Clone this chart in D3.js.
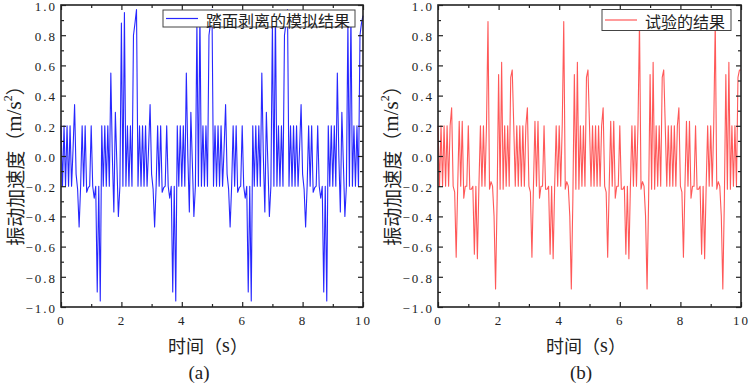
<!DOCTYPE html>
<html lang="zh">
<head>
<meta charset="UTF-8">
<title>振动加速度对比</title>
<script src="https://d3js.org/d3.v7.min.js"></script>
<style>
  body { margin: 0; background: #fff; }
  .tick text { font-family: "Liberation Serif", serif; font-size: 13px; letter-spacing: 2px; fill: #222; }
  .tick line { stroke: #222; stroke-width: 1.2px; }
  .domain { display: none; }
  .cjk { font-family: "Noto Sans CJK SC", sans-serif; fill: #222; }
</style>
</head>
<body>
<svg id="chart" width="749" height="387"></svg>
<script>
// sampled every 0.05 s, 0 .. 10 s
const sampleStep = 0.05;

const simValues = [
  0.20,-0.20,0.20,-0.20,0.20,-0.20,0.20,-0.20,0.05,0.34,
  -0.12,-0.22,-0.47,-0.20,0.20,-0.20,0.20,-0.24,-0.21,-0.20,
  0.20,-0.20,-0.28,-0.20,-0.90,-0.20,-0.96,0.20,-0.20,0.20,
  -0.20,0.20,-0.20,0.55,0.00,-0.37,0.29,-0.05,-0.40,-0.20,
  0.88,-0.20,0.95,-0.20,0.20,-0.20,0.20,-0.20,0.80,0.88,
  0.97,-0.20,0.20,-0.20,0.20,-0.20,0.20,-0.20,0.05,0.34,
  -0.12,-0.22,-0.47,-0.20,0.20,-0.20,0.20,-0.24,-0.21,-0.20,
  0.20,-0.20,-0.28,-0.20,-0.90,-0.20,-0.96,0.20,-0.20,0.20,
  -0.20,0.20,-0.20,0.55,0.00,-0.37,0.29,-0.05,-0.40,-0.20,
  0.88,-0.20,0.95,-0.20,0.20,-0.20,0.20,-0.20,0.80,0.88,
  0.97,-0.20,0.20,-0.20,0.20,-0.20,0.20,-0.20,0.05,0.34,
  -0.12,-0.22,-0.47,-0.20,0.20,-0.20,0.20,-0.24,-0.21,-0.20,
  0.20,-0.20,-0.28,-0.20,-0.90,-0.20,-0.96,0.20,-0.20,0.20,
  -0.20,0.20,-0.20,0.55,0.00,-0.37,0.29,-0.05,-0.40,-0.20,
  0.88,-0.20,0.95,-0.20,0.20,-0.20,0.20,-0.20,0.80,0.88,
  0.97,-0.20,0.20,-0.20,0.20,-0.20,0.20,-0.20,0.05,0.34,
  -0.12,-0.22,-0.47,-0.20,0.20,-0.20,0.20,-0.24,-0.21,-0.20,
  0.20,-0.20,-0.28,-0.20,-0.90,-0.20,-0.96,0.20,-0.20,0.20,
  -0.20,0.20,-0.20,0.55,0.00,-0.37,0.29,-0.05,-0.40,-0.20,
  0.88,-0.20,0.95,-0.20,0.20,-0.20,0.20,-0.20,0.80,0.88,
  0.93
];

const testValues = [
  0.20,-0.20,0.20,-0.20,0.20,-0.20,0.20,-0.20,0.20,0.32,
  -0.20,-0.24,-0.67,-0.20,0.23,-0.20,0.23,-0.28,-0.20,-0.20,
  0.20,-0.22,-0.22,-0.20,-0.65,-0.20,-0.68,-0.20,0.20,-0.20,
  0.20,-0.20,0.20,0.89,-0.22,-0.17,-0.20,-0.40,-0.88,-0.30,
  0.54,-0.22,0.62,-0.22,0.20,-0.20,0.20,-0.20,0.52,0.57,
  0.20,-0.20,0.20,-0.20,0.20,-0.20,0.20,-0.20,0.20,0.32,
  -0.20,-0.24,-0.67,-0.20,0.23,-0.20,0.23,-0.28,-0.20,-0.20,
  0.20,-0.22,-0.22,-0.20,-0.65,-0.20,-0.68,-0.20,0.20,-0.20,
  0.20,-0.20,0.20,0.89,-0.22,-0.17,-0.20,-0.40,-0.88,-0.30,
  0.54,-0.22,0.62,-0.22,0.20,-0.20,0.20,-0.20,0.52,0.57,
  0.20,-0.20,0.20,-0.20,0.20,-0.20,0.20,-0.20,0.20,0.32,
  -0.20,-0.24,-0.67,-0.20,0.23,-0.20,0.23,-0.28,-0.20,-0.20,
  0.20,-0.22,-0.22,-0.20,-0.65,-0.20,-0.68,-0.20,0.20,-0.20,
  0.20,-0.20,0.20,0.89,-0.22,-0.17,-0.20,-0.40,-0.88,-0.30,
  0.54,-0.22,0.62,-0.22,0.20,-0.20,0.20,-0.20,0.52,0.57,
  0.20,-0.20,0.20,-0.20,0.20,-0.20,0.20,-0.20,0.20,0.32,
  -0.20,-0.24,-0.67,-0.20,0.23,-0.20,0.23,-0.28,-0.20,-0.20,
  0.20,-0.22,-0.22,-0.20,-0.65,-0.20,-0.68,-0.20,0.20,-0.20,
  0.20,-0.20,0.20,0.89,-0.22,-0.17,-0.20,-0.40,-0.88,-0.30,
  0.54,-0.22,0.62,-0.22,0.20,-0.20,0.20,-0.20,0.52,0.57,
  0.57
];

const xTicks = [0, 2, 4, 6, 8, 10];
const xMinor = [1, 3, 5, 7, 9];
const yTicks = [-1.0, -0.8, -0.6, -0.4, -0.2, 0.0, 0.2, 0.4, 0.6, 0.8, 1.0];
const yMinor = [-0.9, -0.7, -0.5, -0.3, -0.1, 0.1, 0.3, 0.5, 0.7, 0.9];

const panels = [
  { values: simValues, color: "#1010ff", opacity: 0.9, legend: "踏面剥离的模拟结果", tag: "(a)",
    left: 61, width: 302, legendBox: [163, 10, 192, 17], titleX: 208, tagX: 199, yTitleX: 14 },
  { values: testValues, color: "#ff2020", opacity: 0.75, legend: "试验的结果", tag: "(b)",
    left: 438, width: 303, legendBox: [602, 9.5, 129, 21], titleX: 586, tagX: 581, yTitleX: 391 }
];

const plotTop = 5, plotH = 302;
const svg = d3.select("#chart");
svg.append("rect").attr("width", 749).attr("height", 387).attr("fill", "#fff");

const fmt = d => (d < 0 ? "\u2212" : "") + Math.abs(d).toFixed(1);

panels.forEach(p => {
  const x = d3.scaleLinear().domain([0, 10]).range([0, p.width]);
  const y = d3.scaleLinear().domain([-1, 1]).range([plotH, 0]);
  const g = svg.append("g").attr("transform", `translate(${p.left},${plotTop})`);

  const data = p.values.map((v, i) => [i * sampleStep, v]);
  const line = d3.line().x(d => x(d[0])).y(d => y(d[1]));

  g.append("path")
    .datum(data)
    .attr("d", line)
    .attr("fill", "none")
    .attr("stroke", p.color)
    .attr("stroke-opacity", p.opacity)
    .attr("stroke-width", 1.1)
    .attr("stroke-linejoin", "round");

  // axes, ticks pointing inwards
  g.append("g").attr("transform", `translate(0,${plotH})`)
    .call(d3.axisBottom(x).tickValues(xTicks).tickSizeInner(-5).tickSizeOuter(0).tickPadding(9).tickFormat(d3.format("d")));
  g.append("g").attr("transform", `translate(0,${plotH})`)
    .call(d3.axisBottom(x).tickValues(xMinor).tickSizeInner(-3).tickSizeOuter(0).tickFormat(""));
  g.append("g")
    .call(d3.axisTop(x).tickValues(xTicks).tickSizeInner(-5).tickSizeOuter(0).tickFormat(""));
  g.append("g")
    .call(d3.axisTop(x).tickValues(xMinor).tickSizeInner(-3).tickSizeOuter(0).tickFormat(""));

  g.append("g")
    .call(d3.axisLeft(y).tickValues(yTicks).tickSizeInner(-5).tickSizeOuter(0).tickPadding(4).tickFormat(fmt))
    .selectAll("text").attr("dy", "0.4em");
  g.append("g")
    .call(d3.axisLeft(y).tickValues(yMinor).tickSizeInner(-3).tickSizeOuter(0).tickFormat(""));
  g.append("g").attr("transform", `translate(${p.width},0)`)
    .call(d3.axisRight(y).tickValues(yTicks).tickSizeInner(-5).tickSizeOuter(0).tickFormat(""));
  g.append("g").attr("transform", `translate(${p.width},0)`)
    .call(d3.axisRight(y).tickValues(yMinor).tickSizeInner(-3).tickSizeOuter(0).tickFormat(""));

  g.append("rect")
    .attr("width", p.width).attr("height", plotH)
    .attr("fill", "none").attr("stroke", "#222").attr("stroke-width", 1.6);

  // legend
  const [lx, ly, lw, lh] = p.legendBox;
  svg.append("rect").attr("x", lx).attr("y", ly).attr("width", lw).attr("height", lh)
    .attr("fill", "#fff").attr("stroke", "#444").attr("stroke-width", 1);
  svg.append("line").attr("x1", lx + 3).attr("x2", lx + 35)
    .attr("y1", ly + lh / 2).attr("y2", ly + lh / 2)
    .attr("stroke", p.color).attr("stroke-opacity", p.opacity).attr("stroke-width", 1.2);
  svg.append("text").attr("class", "cjk")
    .attr("x", lx + 43).attr("y", ly + lh / 2 + 1)
    .attr("dominant-baseline", "central")
    .style("font-size", "16px")
    .text(p.legend);

  // titles
  const xt = svg.append("text").attr("class", "cjk")
    .attr("x", p.titleX).attr("y", 345)
    .attr("text-anchor", "middle").attr("dominant-baseline", "central")
    .style("font-size", "18px");
  xt.append("tspan").text("时间（");
  xt.append("tspan").style("font-family", "Liberation Serif, serif").style("font-size", "20px").text("s");
  xt.append("tspan").text("）");

  svg.append("text")
    .attr("x", p.tagX).attr("y", 372)
    .attr("text-anchor", "middle").attr("dominant-baseline", "central")
    .style("font-family", "Liberation Serif, serif").style("font-size", "19px").attr("fill", "#222")
    .text(p.tag);

  const yt = svg.append("text").attr("class", "cjk")
    .attr("transform", `translate(${p.yTitleX},161) rotate(-90)`)
    .attr("text-anchor", "middle").attr("dominant-baseline", "central")
    .style("font-size", "19px");
  yt.append("tspan").text("振动加速度（");
  yt.append("tspan").style("font-family", "Liberation Serif, serif").style("font-size", "21px").text("m/s");
  yt.append("tspan").style("font-family", "Liberation Serif, serif").style("font-size", "12px")
    .attr("dy", "-6").text("2");
  yt.append("tspan").attr("dy", "6").text("）");
});
</script>
</body>
</html>
